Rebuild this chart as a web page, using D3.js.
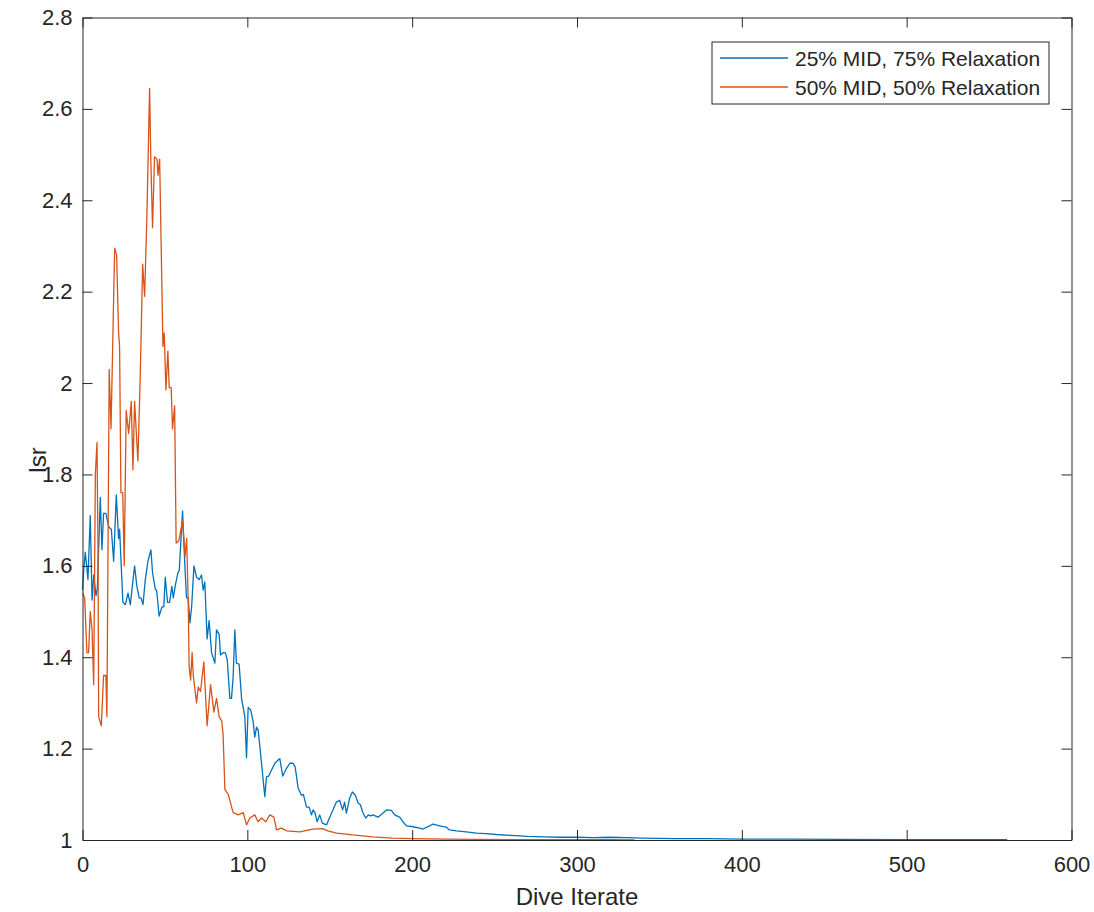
<html>
<head>
<title>lsr vs Dive Iterate</title>
<style>
body { margin: 0; background: #ffffff; }
text { font-family: "Liberation Sans", Arial, Helvetica, sans-serif; fill: #262626; }
</style>
</head>
<body>
<svg width="1094" height="912"></svg>
<script src="https://d3js.org/d3.v7.min.js"></script>
<script>

// 25% MID, 75% Relaxation
var blueX = [0,0.7,1.7,3.3,4.7,5.8,6.8,8.2,9,10.8,11.8,12.8,14.2,15.9,17.5,18.9,20.5,21.9,22.5,24.5,26,27.6,29,31.6,33,34.4,35.5,36.7,38.1,39.7,41.5,42.5,44.1,45,46.5,48.2,49.3,50.2,51.6,52.8,54.2,55.1,56.2,57.9,58.7,60.7,62.1,63.1,64.1,65.2,66.2,67.6,69.2,70.8,72.2,73.2,74.2,75.6,76.8,78.3,80.3,81.3,82.9,83.7,85.3,86.6,87.8,89.4,90.4,91.4,92.4,93.4,95,96.5,98.5,99.5,100.5,102,103.5,104.5,105.6,106.6,108.6,110.6,111.6,113,114.7,116.7,118.7,119.7,121.5,123.5,125.8,127.8,129,130.8,132.8,134,135.9,137.5,138.9,139.9,141,142.3,143.9,145.5,148,150,152,154,156,157.8,159,160.1,162.1,163.7,165.5,167.2,168.6,170.2,171.8,173.4,174.9,176.2,179.3,182.3,184.7,187.4,189.4,192.4,194.4,196.5,200.5,204.5,206.5,210.6,212.6,216.7,220.7,222.7,226.8,232.8,238.9,245,251,260,270,280,290,300,310,320,330,340,360,380,400,430,460,500,530,561];
var blueY = [1.547,1.59,1.63,1.57,1.71,1.525,1.58,1.535,1.55,1.75,1.635,1.715,1.715,1.685,1.68,1.61,1.755,1.66,1.68,1.52,1.515,1.54,1.515,1.6,1.555,1.53,1.53,1.515,1.57,1.61,1.635,1.585,1.55,1.545,1.49,1.51,1.51,1.575,1.52,1.52,1.555,1.53,1.555,1.585,1.59,1.72,1.6,1.53,1.53,1.475,1.51,1.6,1.575,1.57,1.58,1.547,1.565,1.44,1.48,1.41,1.387,1.46,1.45,1.405,1.41,1.41,1.395,1.31,1.31,1.357,1.46,1.387,1.385,1.31,1.27,1.18,1.29,1.285,1.26,1.225,1.247,1.24,1.168,1.095,1.138,1.14,1.153,1.168,1.175,1.178,1.14,1.155,1.168,1.168,1.16,1.114,1.098,1.1,1.072,1.072,1.055,1.066,1.06,1.04,1.055,1.037,1.033,1.05,1.066,1.083,1.087,1.066,1.083,1.059,1.092,1.105,1.098,1.081,1.077,1.059,1.048,1.055,1.053,1.055,1.05,1.059,1.066,1.065,1.055,1.05,1.04,1.031,1.029,1.026,1.024,1.031,1.035,1.031,1.028,1.022,1.02,1.018,1.015,1.014,1.012,1.01,1.008,1.007,1.006,1.006,1.005,1.006,1.005,1.004,1.003,1.003,1.002,1.002,1.0015,1.001,1.001,1.001];

// 50% MID, 50% Relaxation
var orangeX = [0,1.3,2.7,3.7,4.7,5.8,6.8,7.8,8.8,9.4,9.8,11.4,12.8,14.2,14.8,16.2,17.3,19.5,20.7,21.9,22.5,23.3,24.4,25.3,26.5,28,29.6,30.6,31.6,33.6,35,36.5,37.7,39.1,40.7,41.5,42.5,43.7,45.2,45.8,46.8,48.8,49.6,50.6,51.8,52.6,53.8,54.6,55.9,56.8,58.5,60.7,62.2,63.2,64.1,64.7,65.6,66.5,67.2,69.2,70.2,71.6,73.6,75.6,77.7,79.7,81.3,82.9,84.5,85.3,86.4,88.4,91.4,94.4,97.5,99.5,101.5,104.5,106.5,108.6,111.2,113.6,116.1,117.7,120.7,123.8,131.8,139.7,145.8,148.8,154.2,163.9,176,188,200,220,240,260,280,300,320,335];
var orangeY = [1.54,1.53,1.41,1.41,1.5,1.46,1.34,1.8,1.87,1.63,1.27,1.25,1.36,1.36,1.27,2.03,1.9,2.295,2.28,2.11,2.08,1.76,1.76,1.6,1.94,1.89,1.96,1.81,1.96,1.83,2.01,2.26,2.19,2.37,2.645,2.48,2.34,2.495,2.49,2.455,2.49,2.08,2.11,1.985,2.07,1.99,1.99,1.9,1.95,1.65,1.655,1.7,1.62,1.66,1.525,1.38,1.35,1.41,1.36,1.3,1.335,1.325,1.39,1.25,1.34,1.28,1.31,1.27,1.26,1.23,1.11,1.1,1.06,1.055,1.06,1.033,1.048,1.055,1.04,1.048,1.04,1.055,1.05,1.022,1.026,1.02,1.018,1.024,1.025,1.02,1.015,1.011,1.007,1.004,1.003,1.002,1.0015,1.001,1.001,1.0005,1.0005,1.0003];

var seriesNames = ["25% MID, 75% Relaxation", "50% MID, 50% Relaxation"];
var seriesColors = ["#0072BD", "#D95319"];
var xTicks = [0, 100, 200, 300, 400, 500, 600];
var yTicks = [1, 1.2, 1.4, 1.6, 1.8, 2, 2.2, 2.4, 2.6, 2.8];

var svg = d3.select("svg");
var plotLeft = 82.5, plotTop = 17.5, plotRight = 1071.5, plotBottom = 840;

var x = d3.scaleLinear().domain([0, 600]).range([plotLeft, plotRight]);
var y = d3.scaleLinear().domain([1, 2.8]).range([plotBottom, plotTop]);

var axisColor = "#262626";
var fmt = d3.format("~g");

function styleAxis(g) {
  g.selectAll("path, line").attr("stroke", axisColor).attr("stroke-width", 1);
  g.selectAll("text").style("font-size", "22px").attr("fill", axisColor)
    .style("font-family", "'Liberation Sans', Arial, sans-serif");
}

// lines
var data = [
  d3.zip(blueX, blueY),
  d3.zip(orangeX, orangeY)
];
var line = d3.line().x(function(d) { return x(d[0]); }).y(function(d) { return y(d[1]); });

data.forEach(function(s, i) {
  svg.append("path")
    .attr("d", line(s))
    .attr("fill", "none")
    .attr("stroke", seriesColors[i])
    .attr("stroke-width", 1.3)
    .attr("stroke-linejoin", "round");
});

// axes (ticks inward, box on)
svg.append("g").attr("transform", "translate(0," + plotBottom + ")")
  .call(d3.axisBottom(x).tickValues(xTicks).tickFormat(fmt).tickSizeInner(-10).tickSizeOuter(0).tickPadding(16))
  .call(styleAxis);
svg.append("g").attr("transform", "translate(" + plotLeft + ",0)")
  .call(d3.axisLeft(y).tickValues(yTicks).tickFormat(fmt).tickSizeInner(-10).tickSizeOuter(0).tickPadding(10))
  .call(styleAxis);
svg.append("g").attr("transform", "translate(0," + plotTop + ")")
  .call(d3.axisTop(x).tickValues(xTicks).tickFormat("").tickSizeInner(-10).tickSizeOuter(0))
  .call(styleAxis);
svg.append("g").attr("transform", "translate(" + plotRight + ",0)")
  .call(d3.axisRight(y).tickValues(yTicks).tickFormat("").tickSizeInner(-10).tickSizeOuter(0))
  .call(styleAxis);

// axis labels
svg.append("text")
  .attr("x", (plotLeft + plotRight) / 2).attr("y", 905)
  .attr("text-anchor", "middle")
  .style("font-size", "24px")
  .text("Dive Iterate");

svg.append("text")
  .attr("transform", "translate(46,460) rotate(-90)")
  .attr("text-anchor", "middle")
  .style("font-size", "24px")
  .text("lsr");

// legend
var legend = svg.append("g");
legend.append("rect")
  .attr("x", 712).attr("y", 42).attr("width", 337).attr("height", 62)
  .attr("fill", "#ffffff").attr("stroke", axisColor).attr("stroke-width", 1);
seriesNames.forEach(function(name, i) {
  var ly = 58 + i * 29;
  legend.append("line")
    .attr("x1", 720).attr("x2", 788).attr("y1", ly).attr("y2", ly)
    .attr("stroke", seriesColors[i]).attr("stroke-width", 1.3);
  legend.append("text")
    .attr("x", 795).attr("y", ly).attr("dy", "0.36em")
    .style("font-size", "21px")
    .text(name);
});

</script>
</body>
</html>
